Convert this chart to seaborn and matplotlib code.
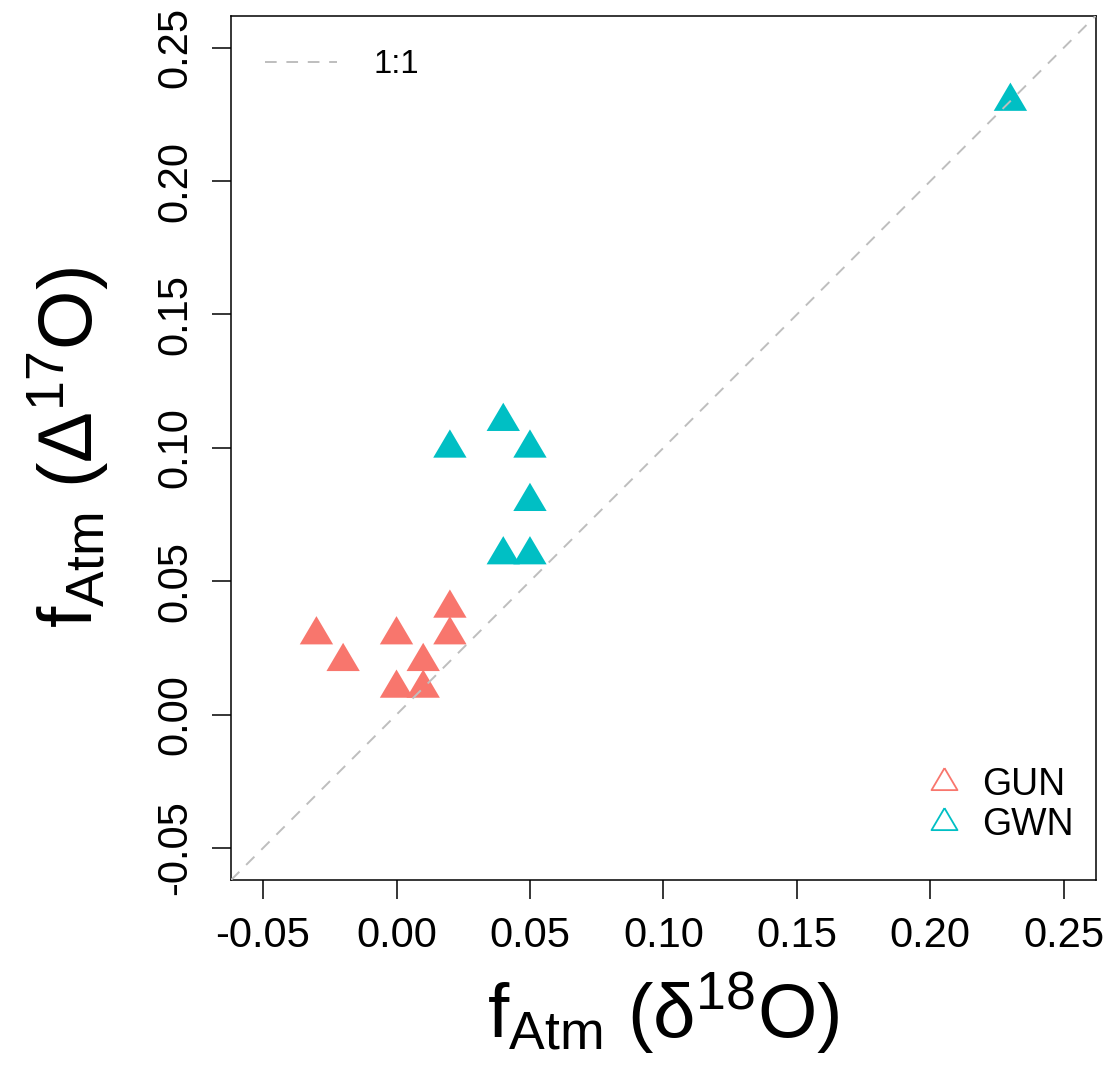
import pandas as pd
import matplotlib
matplotlib.use('Agg')
import matplotlib.pyplot as plt
from matplotlib.lines import Line2D
import seaborn as sns

# ========== data ==========
gun_x = [-0.03, -0.02, 0.00, 0.00, 0.01, 0.01, 0.02, 0.02]
gun_y = [0.03, 0.02, 0.03, 0.01, 0.02, 0.01, 0.04, 0.03]
gwn_x = [0.02, 0.04, 0.05, 0.05, 0.04, 0.05, 0.23]
gwn_y = [0.10, 0.11, 0.10, 0.08, 0.06, 0.06, 0.23]
groups = ['GUN', 'GWN']
colors = {'GUN': '#F8766D', 'GWN': '#00BFC4'}
ticks = [-0.05, 0.00, 0.05, 0.10, 0.15, 0.20, 0.25]
lims = (-0.062, 0.262)

df = pd.DataFrame({
    'x': gun_x + gwn_x,
    'y': gun_y + gwn_y,
    'group': ['GUN'] * len(gun_x) + ['GWN'] * len(gwn_x),
})

# ========== style ==========
sns.set_style('white')
plt.rcParams['font.family'] = ['Liberation Sans', 'DejaVu Sans']
plt.rcParams['mathtext.fontset'] = 'custom'
plt.rcParams['mathtext.rm'] = 'Liberation Sans'
plt.rcParams['mathtext.it'] = 'Liberation Sans:italic'
plt.rcParams['mathtext.default'] = 'regular'
for k in ['text.color', 'axes.labelcolor', 'xtick.color', 'ytick.color']:
    plt.rcParams[k] = 'black'

# equilateral-ish triangle like R's pch 17 / pch 2 (closed path)
tri = [(0, 18.5), (-16.7, -9.8), (16.7, -9.8), (0, 18.5)]

fig = plt.figure(figsize=(11.08, 10.68), dpi=100)
ax = fig.add_axes([0.2085, 0.176, 0.7805, 0.8093])

sns.scatterplot(data=df, x='x', y='y', hue='group', palette=colors,
                marker=tri, s=26.6 ** 2, linewidth=0, legend=False, ax=ax, zorder=2)

ax.axline((0, 0), slope=1, color='#BEBEBE', lw=1.4, dashes=(6, 5), zorder=3)

ax.set_xlim(lims)
ax.set_ylim(lims)
ax.set_xticks(ticks)
ax.set_yticks(ticks)
ax.set_xticklabels([f'{t:.2f}' for t in ticks])
ax.set_yticklabels([f'{t:.2f}' for t in ticks], rotation=90, va='center')
ax.tick_params(axis='both', direction='out', length=13.7, width=1.1,
               labelsize=30, color='black', labelcolor='black', pad=12,
               left=True, bottom=True)
for sp in ax.spines.values():
    sp.set_color('black')
    sp.set_linewidth(1.1)

ax.set_xlabel(r'$f_{Atm}\ (δ^{18}O)$', fontsize=55, labelpad=10)
ax.set_ylabel(r'$f_{Atm}\ (Δ^{17}O)$', fontsize=55, labelpad=32)

# ========== legends ==========
h_line = [Line2D([], [], color='#BEBEBE', lw=1.4, dashes=(6, 5))]
leg1 = ax.legend(h_line, ['1:1'], loc='center left', bbox_to_anchor=(0.0393, 0.943),
                 frameon=False, fontsize=23.5, handlelength=2.2, handletextpad=1.13,
                 borderaxespad=0, borderpad=0)
ax.add_artist(leg1)

h_pts = [Line2D([], [], ls='none', marker=tri, markersize=20.7, markerfacecolor='none',
                markeredgecolor=colors[g], markeredgewidth=1.3) for g in groups]
ax.legend(h_pts, groups, loc='center left', bbox_to_anchor=(0.8023, 0.0868),
          frameon=False, fontsize=27, handlelength=1.0, handletextpad=0.52,
          labelspacing=0.1, borderaxespad=0, borderpad=0)

plt.savefig('out.png', dpi=100)
